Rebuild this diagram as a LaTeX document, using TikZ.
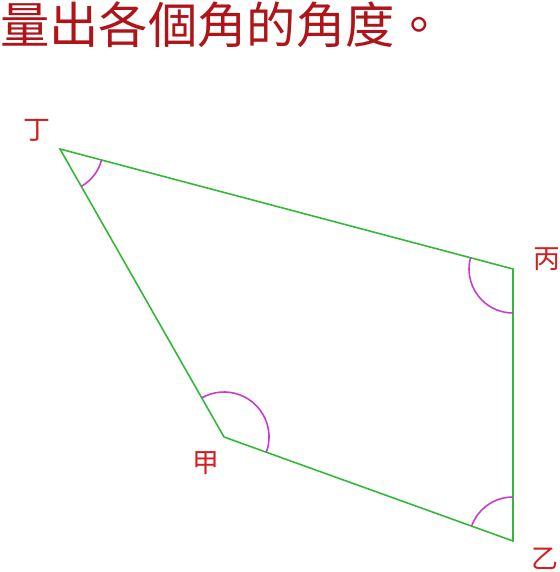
\documentclass[tikz,border=0pt]{standalone}
\usepackage{fontspec}
\newfontfamily\cjk{Noto Sans CJK TC}
\usetikzlibrary{angles}
\definecolor{titlered}{RGB}{175,20,25}
\definecolor{labelred}{RGB}{210,30,30}
\definecolor{edgegreen}{RGB}{50,185,55}
\definecolor{arcpink}{RGB}{200,60,210}
\tikzset{vertexlabel/.style={inner sep=0pt, text=labelred, font=\cjk\fontsize{27}{27}\selectfont},
         edge/.style={draw=edgegreen, line width=1.6bp},
         anglearc/.style={draw=arcpink, line width=1.6bp, angle radius=44bp}}
\begin{document}
\begin{tikzpicture}[x=1bp, y=1bp]
    \useasboundingbox (0,0) rectangle (560,572);
    \node[anchor=base west, inner sep=0pt, text=titlered, font=\cjk\fontsize{49.5}{50}\selectfont] (title) at (0,528) {量出各個角的角度。};
    % corners
    \coordinate (ding) at (60,423);
    \coordinate (bing) at (513,303);
    \coordinate (yi) at (513,31);
    \coordinate (jia) at (224,135);
    \draw[edge] (ding) -- (bing) -- (yi) -- (jia) -- cycle;
    % angle marks
    \pic[anglearc, angle radius=43bp] {angle = jia--ding--bing};
    \pic[anglearc] {angle = ding--bing--yi};
    \pic[anglearc] {angle = bing--yi--jia};
    \pic[anglearc, angle radius=45bp] {angle = yi--jia--ding};
    % labels
    \node[vertexlabel] (dinglabel) at (37,442) {丁};
    \node[vertexlabel] (binglabel) at (547,313) {丙};
    \node[vertexlabel] (yilabel) at (545,13) {乙};
    \node[vertexlabel] (jialabel) at (206,109) {甲};
\end{tikzpicture}
\end{document}
